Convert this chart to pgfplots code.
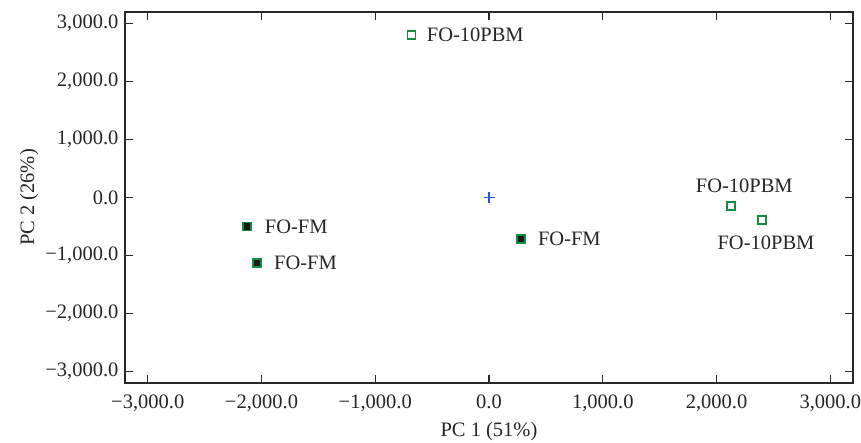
\documentclass[border=0pt]{standalone}
\usepackage{fontspec}
\setmainfont{Liberation Serif}
\usepackage{pgfplots}
\pgfplotsset{compat=1.18}
\usetikzlibrary{calc}
\definecolor{mkgreen}{RGB}{20,140,65}
\definecolor{axgray}{RGB}{40,40,40}
\definecolor{plusblue}{RGB}{40,80,230}
\newcommand{\fs}{\fontsize{20.5}{24}\selectfont}
\begin{document}
\begin{tikzpicture}
\begin{axis}[
  scale only axis,
  width=728pt, height=371pt,
  xmin=-3200, xmax=3200, ymin=-3200, ymax=3200,
  axis line style={axgray, line width=1.1pt},
  every tick/.style={axgray, line width=1.1pt},
  major tick length=8pt,
  tick align=inside,
  xtick={-3000,-2000,-1000,0,1000,2000,3000},
  ytick={-3000,-2000,-1000,0,1000,2000,3000},
  xticklabels={{−3,000.0},{−2,000.0},{−1,000.0},{0.0},{1,000.0},{2,000.0},{3,000.0}},
  yticklabels={{−3,000.0},{−2,000.0},{−1,000.0},{0.0},{1,000.0},{2,000.0},{3,000.0}},
  ticklabel style={font=\fs, text=black!85},
  xticklabel style={yshift=-8pt},
  yticklabel style={xshift=-3pt},
  xlabel={PC 1 (51\%)},
  ylabel={PC 2 (26\%)},
  label style={font=\fs, text=black!85},
  xlabel style={yshift=-4pt},
  clip=false,
]
\addplot[only marks, mark=square*, mark size=4pt,
  mark options={draw=mkgreen, fill=black!90, line width=1.6pt}]
  coordinates {(-2130,-500) (-2040,-1130) (280,-720)};
\addplot[only marks, mark=square, mark size=4pt,
  mark options={draw=mkgreen, line width=1.6pt}]
  coordinates {(-680,2800) (2130,-150) (2400,-390)};
\addplot[draw=plusblue, only marks, mark=+, mark size=5.5pt,
  mark options={draw=plusblue, solid, line width=1.3pt}]
  coordinates {(0,0)};
\begin{scope}[every node/.style={font=\fs, text=black!85, inner sep=0pt}]
\node[anchor=west] at ([xshift=15pt]axis cs:-680,2800) {FO-10PBM};
\node at ([xshift=13pt,yshift=20pt]axis cs:2130,-150) {FO-10PBM};
\node at ([xshift=4pt,yshift=-23pt]axis cs:2400,-390) {FO-10PBM};
\node[anchor=west] at ([xshift=18pt]axis cs:-2130,-500) {FO-FM};
\node[anchor=west] at ([xshift=17pt]axis cs:-2040,-1130) {FO-FM};
\node[anchor=west] at ([xshift=17pt]axis cs:280,-720) {FO-FM};
\end{scope}
\end{axis}
\pgfresetboundingbox
\path[use as bounding box] ($(current axis.south west)+(-125pt,-60pt)$) rectangle ($(current axis.north east)+(8pt,12pt)$);
\end{tikzpicture}
\end{document}
